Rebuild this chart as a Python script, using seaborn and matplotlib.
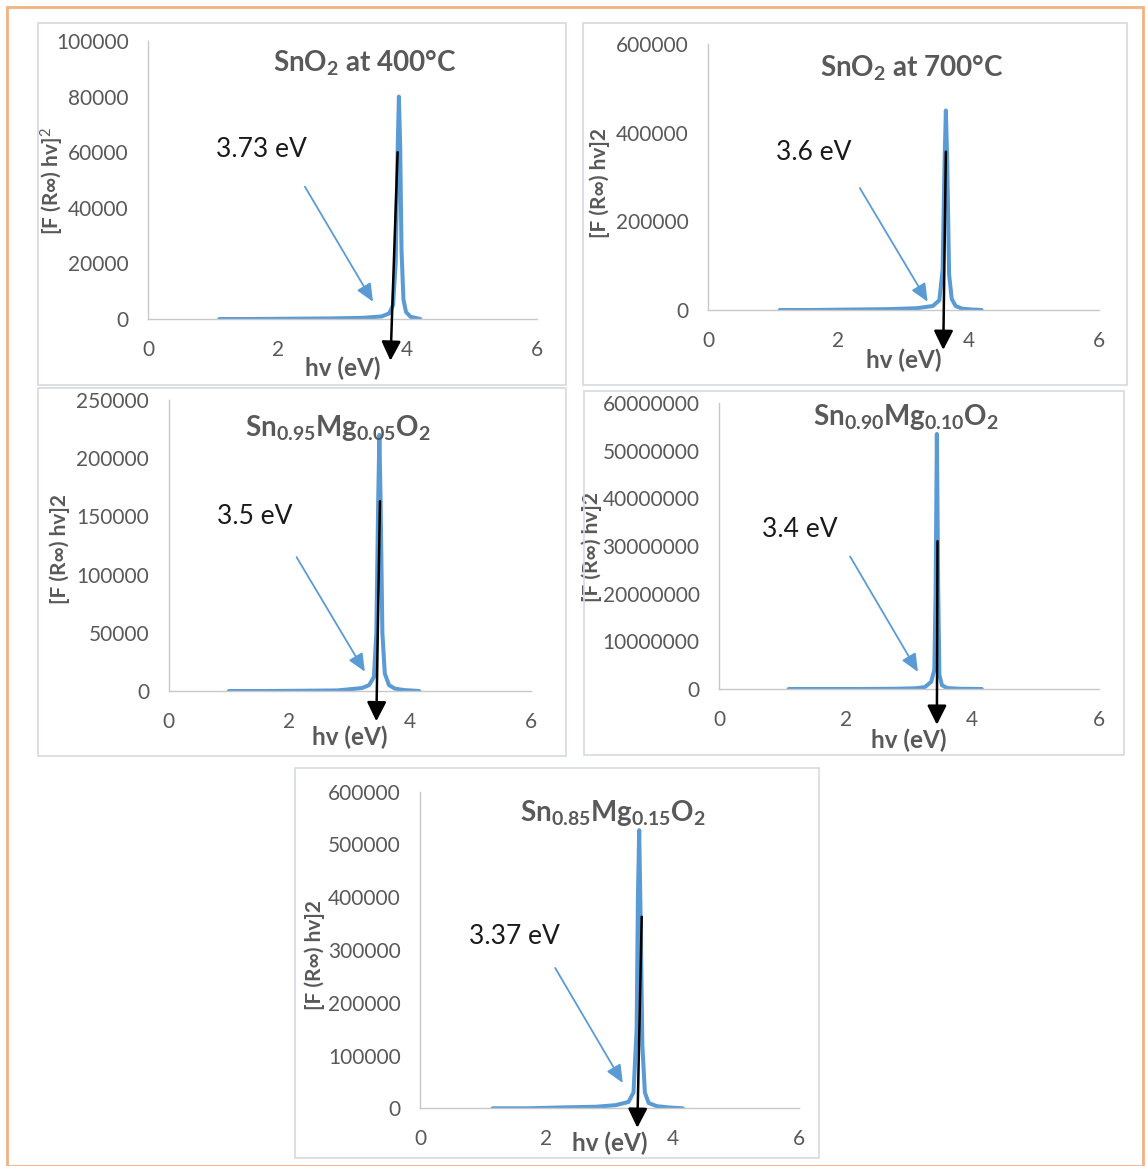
import numpy as np
import pandas as pd
import matplotlib
matplotlib.use("Agg")
import matplotlib.pyplot as plt
import seaborn as sns
from matplotlib.patches import Rectangle

# ---------------- data ----------------
titles = [r"Sn$\mathbf{O_2}$ at 400°C", r"Sn$\mathbf{O_2}$ at 700°C",
          r"$\mathbf{Sn_{0.95}Mg_{0.05}O_2}$", r"$\mathbf{Sn_{0.90}Mg_{0.10}O_2}$",
          r"$\mathbf{Sn_{0.85}Mg_{0.15}O_2}$"]
ylabels = ["[F (R∞) hv]$^2$", "[F (R∞) hv]2", "[F (R∞) hv]2", "[F (R∞) hv]2", "[F (R∞) hv]2"]
gap_labels = ["3.73 eV", "3.6 eV", "3.5 eV", "3.4 eV", "3.37 eV"]

x_ticks = [0, 2, 4, 6]
y_ticks_1 = [0, 20000, 40000, 60000, 80000, 100000]
y_ticks_2 = [0, 200000, 400000, 600000]
y_ticks_3 = [0, 50000, 100000, 150000, 200000, 250000]
y_ticks_4 = [0, 10000000, 20000000, 30000000, 40000000, 50000000, 60000000]
y_ticks_5 = [0, 100000, 200000, 300000, 400000, 500000, 600000]

hv_1 = [1.10, 1.60, 2.20, 2.80, 3.30, 3.60, 3.72, 3.78, 3.82, 3.85, 3.87, 3.89, 3.91, 3.94, 3.98, 4.05, 4.20]
F_1 = [0, 0, 100, 200, 400, 900, 2000, 5000, 20000, 60000, 80000, 62000, 25000, 7000, 2500, 800, 0]

hv_2 = [1.10, 1.60, 2.20, 2.80, 3.20, 3.45, 3.55, 3.60, 3.63, 3.65, 3.67, 3.70, 3.74, 3.80, 3.90, 4.05, 4.20]
F_2 = [0, 0, 1000, 2000, 4000, 9000, 22000, 90000, 330000, 450000, 340000, 80000, 25000, 9000, 3000, 1000, 0]

hv_3 = [1.00, 1.60, 2.20, 2.80, 3.00, 3.20, 3.32, 3.40, 3.44, 3.47, 3.49, 3.51, 3.54, 3.58, 3.65, 3.75, 3.90, 4.15]
F_3 = [0, 0, 200, 500, 1500, 2500, 5000, 12000, 50000, 160000, 220000, 165000, 50000, 15000, 5000, 2000, 800, 0]

hv_4 = [1.10, 1.60, 2.20, 2.80, 3.10, 3.25, 3.35, 3.40, 3.42, 3.44, 3.46, 3.48, 3.52, 3.60, 3.80, 4.15]
F_4 = [0, 0, 0, 50000, 150000, 400000, 1500000, 4000000, 20000000, 53500000, 22000000, 3000000,
       800000, 200000, 50000, 0]

hv_5 = [1.15, 1.70, 2.20, 2.80, 3.10, 3.30, 3.38, 3.43, 3.45, 3.47, 3.49, 3.52, 3.56, 3.62, 3.75, 3.95, 4.16]
F_5 = [0, 0, 1500, 3000, 6000, 12000, 30000, 150000, 400000, 527000, 380000, 120000, 30000, 10000, 4000, 1500, 0]

# tangent (black) lines: start -> tip on the energy axis
tangent_start = [(3.85, 60000), (3.65, 357000), (3.50, 163000), (3.45, 31000000), (3.51, 363000)]
tangent_tip = [(3.74, -15000), (3.61, -90000), (3.44, -26000), (3.44, -7500000), (3.44, -37000)]
# pointer (blue) arrows and their labels
pointer_start = [(2.42, 47600), (2.33, 275000), (2.12, 115000), (2.07, 27800000), (2.14, 266000)]
pointer_end = [(3.47, 6200), (3.37, 18700), (3.25, 16600), (3.14, 3600000), (3.21, 48000)]
label_pos = [(1.75, 61150), (1.63, 356000), (1.43, 150000), (1.28, 33400000), (1.49, 325000)]

hv_all = [hv_1, hv_2, hv_3, hv_4, hv_5]
F_all = [F_1, F_2, F_3, F_4, F_5]
yticks_all = [y_ticks_1, y_ticks_2, y_ticks_3, y_ticks_4, y_ticks_5]

# ---------------- layout (pixels) ----------------
W, H = 1148, 1166
axes_px = [(148, 41, 537, 319), (708, 44, 1099, 310), (168.5, 400, 531, 691),
           (719, 403, 1099, 689), (420, 791.7, 799, 1108.3)]
boxes_px = [(38, 23, 566, 385), (583, 23, 1127, 385), (38, 388, 566, 756),
            (584, 391, 1124, 755), (295, 768, 819, 1158)]
title_pos = [(0.558, 0.92), (0.52, 0.91), (0.467, 0.904), (0.492, 0.952), (0.508, 0.933)]
ylabel_pos = [(-0.247, 0.497), (-0.276, 0.477), (-0.30, 0.488), (-0.334, 0.497), (-0.279, 0.484)]
xlabel_y = [-0.176, -0.188, -0.158, -0.178, -0.11]

BLUE = "#5B9BD5"
GREY = "#595959"

sns.set_style("white")
plt.rcParams["font.family"] = ["Lato", "DejaVu Sans"]
plt.rcParams["mathtext.fontset"] = "custom"
plt.rcParams["mathtext.rm"] = "Lato"
plt.rcParams["mathtext.bf"] = "Lato:bold"
plt.rcParams["mathtext.it"] = "Lato:italic"

fig = plt.figure(figsize=(W / 100, H / 100), dpi=100)
fig.patch.set_facecolor("white")

# outer orange frame
fig.add_artist(Rectangle((7 / W, 0.0), (1143 - 7) / W, 1 - 7 / H, transform=fig.transFigure,
                         fill=False, edgecolor="#F4B183", lw=2))

for i in range(5):
    bx0, by0, bx1, by1 = boxes_px[i]
    fig.add_artist(Rectangle((bx0 / W, 1 - by1 / H), (bx1 - bx0) / W, (by1 - by0) / H,
                             transform=fig.transFigure, fill=False, edgecolor="#D5D9DE", lw=1.2))
    l, t, r, b = axes_px[i]
    ax = fig.add_axes([l / W, 1 - b / H, (r - l) / W, (b - t) / H])
    df = pd.DataFrame({"hv": hv_all[i], "F": F_all[i]})
    sns.lineplot(data=df, x="hv", y="F", ax=ax, color=BLUE, lw=2.9, sort=False, estimator=None)

    yt = yticks_all[i]
    ax.set_xlim(0, 6)
    ax.set_ylim(0, yt[-1])
    ax.set_xticks(x_ticks)
    ax.set_xticklabels([str(v) for v in x_ticks])
    ax.set_yticks(yt)
    ax.set_yticklabels([str(v) for v in yt])
    for s in ["top", "right"]:
        ax.spines[s].set_visible(False)
    for s in ["left", "bottom"]:
        ax.spines[s].set_color("#C8C8C8")
        ax.spines[s].set_linewidth(1.0)
    ax.tick_params(axis="both", length=0, labelsize=15, colors=GREY)
    ax.tick_params(axis="x", pad=15)
    ax.tick_params(axis="y", pad=14)

    ax.set_xlabel("hv (eV)", fontsize=17.5, fontweight="bold", color=GREY)
    ax.xaxis.set_label_coords(0.5, xlabel_y[i])
    ax.xaxis.label.set_va("center")
    ax.set_ylabel(ylabels[i], fontsize=15, fontweight="bold", color=GREY)
    ax.yaxis.set_label_coords(*ylabel_pos[i])
    ax.yaxis.label.set_va("center")

    ax.text(title_pos[i][0], title_pos[i][1], titles[i], transform=ax.transAxes,
            ha="center", va="center", fontsize=20, fontweight="bold", color=GREY)

    # tangent line with arrow head
    ax.annotate("", xy=tangent_tip[i], xytext=tangent_start[i],
                arrowprops=dict(arrowstyle="-|>,head_length=0.9,head_width=0.45",
                                color="black", lw=1.8, mutation_scale=13,
                                shrinkA=0, shrinkB=0),
                annotation_clip=False)
    # pointer arrow
    ax.annotate("", xy=pointer_end[i], xytext=pointer_start[i],
                arrowprops=dict(arrowstyle="-|>,head_length=0.9,head_width=0.4",
                                color=BLUE, lw=1.3, mutation_scale=12,
                                shrinkA=0, shrinkB=0),
                annotation_clip=False)
    ax.text(label_pos[i][0], label_pos[i][1], gap_labels[i], ha="center", va="center",
            fontsize=19, color="#1a1a1a")

fig.savefig("out.png", dpi=100, facecolor="white")
